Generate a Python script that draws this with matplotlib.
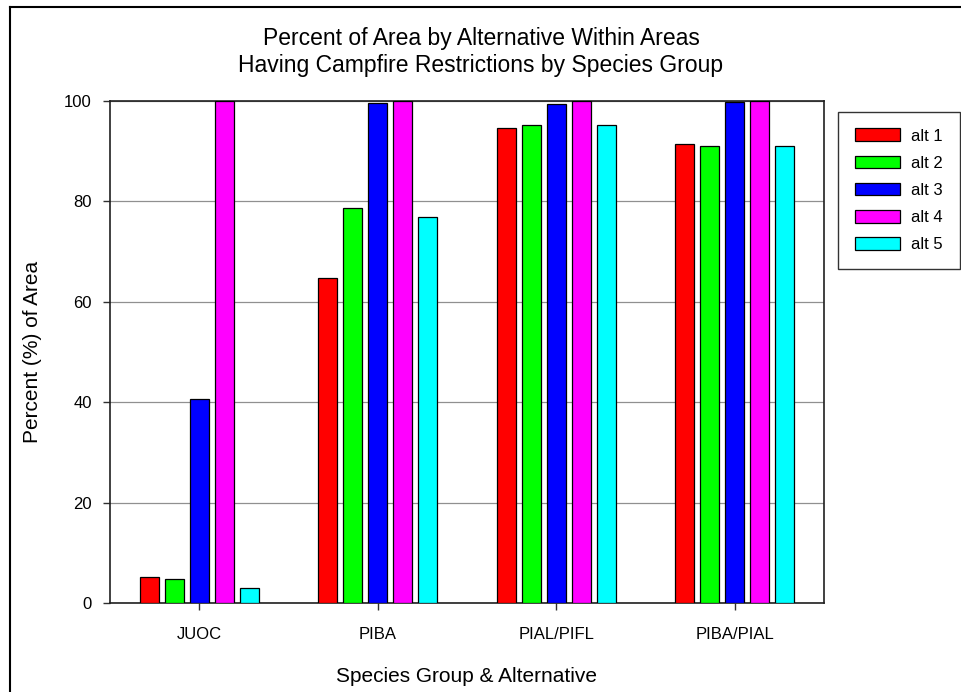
import numpy as np
import matplotlib.pyplot as plt
from matplotlib.patches import Patch
from matplotlib.lines import Line2D

plt.rcParams['font.family'] = ['Liberation Sans', 'DejaVu Sans']

groups = ['JUOC', 'PIBA', 'PIAL/PIFL', 'PIBA/PIAL']
labels = ['alt 1', 'alt 2', 'alt 3', 'alt 4', 'alt 5']
alt1 = [5.3, 64.8, 94.6, 91.3]
alt2 = [4.8, 78.6, 95.2, 91.0]
alt3 = [40.6, 99.5, 99.3, 99.8]
alt4 = [100.0, 100.0, 100.0, 100.0]
alt5 = [3.0, 76.9, 95.1, 91.0]
colors = ['#ff0000', '#00ff00', '#0000ff', '#ff00ff', '#00ffff']

W, H = 961, 692
fig = plt.figure(figsize=(W / 100, H / 100), dpi=100)
ax = fig.add_axes([110 / W, 1 - 603.3 / H, (824 - 110) / W, (603.3 - 100.7) / H])

x = np.arange(len(groups))
step = 0.14
width = 0.105
series = [alt1, alt2, alt3, alt4, alt5]
for i, vals in enumerate(series):
    ax.bar(x + (i - 2) * step, vals, width, color=colors[i], edgecolor='black',
           linewidth=0.9, zorder=3)

ax.set_xlim(-0.5, 3.5)
ax.set_ylim(0, 100)
ax.set_yticks([0, 20, 40, 60, 80, 100])
ax.set_xticks(x)
ax.set_xticklabels(groups)
ax.yaxis.grid(True, color='#909090', linewidth=0.9, zorder=0)
ax.set_axisbelow(True)
ax.tick_params(axis='both', direction='out', length=5, width=1, colors='#303030',
               labelcolor='black', labelsize=12)
ax.tick_params(axis='y', pad=8)
ax.tick_params(axis='x', pad=12)
for s in ax.spines.values():
    s.set_color('#202020')
    s.set_linewidth(1.2)

fig.text(481 / W, 1 - 52 / H, 'Percent of Area by Alternative Within Areas\nHaving Campfire Restrictions by Species Group',
         ha='center', va='center', fontsize=16.5, linespacing=1.2)
fig.text(33 / W, 1 - 352 / H, 'Percent (%) of Area', rotation=90, ha='center', va='center', fontsize=15)
fig.text(467 / W, 1 - 676 / H, 'Species Group & Alternative', ha='center', va='center', fontsize=15)

handles = [Patch(facecolor=c, edgecolor='black', linewidth=0.9) for c in colors]
leg = fig.legend(handles, labels, loc='upper left', bbox_to_anchor=(838 / W, 1 - 111.7 / H),
                 fontsize=12, frameon=True, fancybox=False, edgecolor='black',
                 handlelength=2.7, handleheight=0.8, labelspacing=0.72,
                 borderpad=1.0, handletextpad=0.7, borderaxespad=0)
leg.get_frame().set_linewidth(1.0)

# figure border (right and bottom fall outside the picture)
fig.add_artist(Line2D([10 / W, 10 / W], [0, 1 - 7 / H], color='black', linewidth=1.5))
fig.add_artist(Line2D([10 / W, 1], [1 - 7 / H, 1 - 7 / H], color='black', linewidth=1.5))

fig.savefig('out.png', dpi=100)
